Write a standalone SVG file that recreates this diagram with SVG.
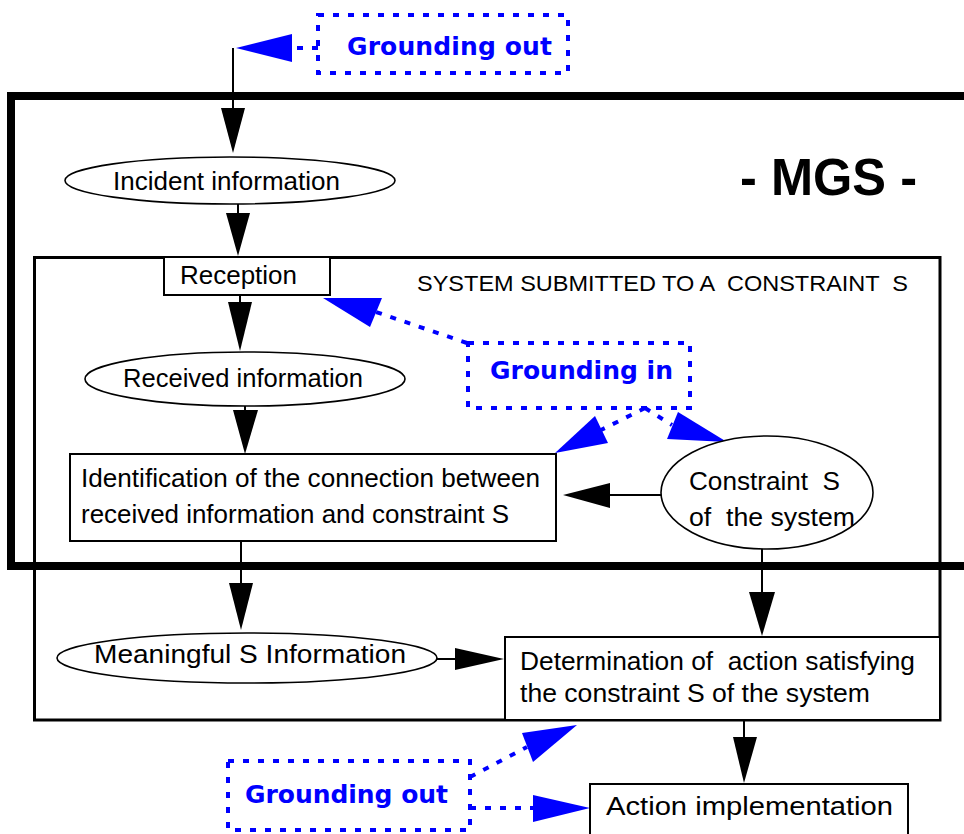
<svg xmlns="http://www.w3.org/2000/svg" width="964" height="834" viewBox="0 0 964 834">
<style>
.t{font-family:"Liberation Sans",Arial,sans-serif;font-size:26px;fill:#000;white-space:pre}
.g{font-family:"DejaVu Sans",Verdana,sans-serif;font-weight:bold;font-size:25px;fill:#0000ff}
.box{fill:#fff;stroke:#000;stroke-width:2}
.ell{fill:#fff;stroke:#000;stroke-width:1.6}
.dot{fill:none;stroke:#0000ff;stroke-width:4;stroke-dasharray:6 9}
.ln{fill:none;stroke:#000;stroke-width:2}
.ah{fill:#000}
.bh{fill:#0000ff}
</style>
<rect width="964" height="834" fill="#fff"/>
<g id="mgs-frame">
<rect x="11" y="96" width="975" height="470" fill="none" stroke="#000" stroke-width="8"/>
<text x="740" y="195" style="font-family:'Liberation Sans',Arial,sans-serif;font-weight:bold;font-size:51px;white-space:pre" textLength="177" lengthAdjust="spacingAndGlyphs">- MGS -</text>
</g>
<g id="system-frame">
<rect x="34.5" y="257.5" width="905.5" height="462.5" fill="none" stroke="#000" stroke-width="3"/>
<text class="t" x="417" y="291" style="font-size:22px" textLength="491" lengthAdjust="spacingAndGlyphs">SYSTEM SUBMITTED TO A  CONSTRAINT  S</text>
</g>
<g id="connectors">
<line class="ln" x1="233" y1="48" x2="233" y2="110"/>
<polygon class="ah" points="221,108 245,108 233,153"/>
<line class="ln" x1="238" y1="204" x2="238" y2="215"/>
<polygon class="ah" points="226,213 250,213 238,256"/>
<line class="ln" x1="240" y1="295" x2="240" y2="304"/>
<polygon class="ah" points="228,302 252,302 240,351"/>
<line class="ln" x1="245" y1="406" x2="245" y2="412"/>
<polygon class="ah" points="233,410 258,410 245,454"/>
<line class="ln" x1="661" y1="495" x2="608" y2="495"/>
<polygon class="ah" points="610,483 610,508 563,495"/>
<line class="ln" x1="241" y1="541" x2="241" y2="585"/>
<polygon class="ah" points="229,583 253,583 241,630"/>
<line class="ln" x1="436" y1="659" x2="457" y2="659"/>
<polygon class="ah" points="455,648 455,670 504,659"/>
<line class="ln" x1="762" y1="549" x2="762" y2="594"/>
<polygon class="ah" points="749,592 775,592 762,636"/>
<line class="ln" x1="744" y1="720" x2="744" y2="739"/>
<polygon class="ah" points="733,737 757,737 744,783"/>
<line class="dot" x1="318" y1="48" x2="292" y2="48"/>
<polygon class="bh" points="236,48 292,34 292,62"/>
<line class="dot" x1="467" y1="343" x2="376" y2="312"/>
<polygon class="bh" points="323,298 382,298 370,327"/>
<line class="dot" x1="645" y1="408" x2="601" y2="430"/>
<polygon class="bh" points="555,453 595,416 608,443"/>
<line class="dot" x1="645" y1="408" x2="672" y2="425"/>
<polygon class="bh" points="727,442 678,412 667,439"/>
<line class="dot" x1="470" y1="777" x2="527" y2="747"/>
<polygon class="bh" points="577,725 522,733 533,762"/>
<line class="dot" x1="470" y1="808" x2="533" y2="808"/>
<polygon class="bh" points="590,808 533,795 533,822"/>
</g>
<g id="grounding-out-top">
<rect class="dot" x="318" y="15" width="250" height="58"/>
<text class="g" x="347" y="55" textLength="205">Grounding out</text>
</g>
<g id="incident-information">
<ellipse class="ell" cx="230" cy="180.5" rx="165" ry="23.5"/>
<text class="t" x="113" y="190" textLength="227" lengthAdjust="spacingAndGlyphs">Incident information</text>
</g>
<g id="reception">
<rect class="box" x="164" y="257" width="166" height="38"/>
<text class="t" x="180" y="284" textLength="117" lengthAdjust="spacingAndGlyphs">Reception</text>
</g>
<g id="received-information">
<ellipse class="ell" cx="245" cy="379" rx="160" ry="27"/>
<text class="t" x="123" y="387" textLength="240" lengthAdjust="spacingAndGlyphs">Received information</text>
</g>
<g id="grounding-in">
<rect class="dot" x="468" y="343" width="222" height="65"/>
<text class="g" x="490" y="379" textLength="183">Grounding in</text>
</g>
<g id="identification">
<rect class="box" x="70" y="454" width="486" height="87"/>
<text class="t" x="81" y="487" textLength="459" lengthAdjust="spacingAndGlyphs">Identification of the connection between</text>
<text class="t" x="81" y="523" textLength="428" lengthAdjust="spacingAndGlyphs">received information and constraint S</text>
</g>
<g id="constraint-s">
<ellipse class="ell" cx="767" cy="492.5" rx="106" ry="56.5"/>
<text class="t" x="689" y="490" textLength="151" lengthAdjust="spacingAndGlyphs">Constraint  S</text>
<text class="t" x="689" y="526" textLength="166" lengthAdjust="spacingAndGlyphs">of  the system</text>
</g>
<g id="meaningful-information">
<ellipse class="ell" cx="247" cy="658" rx="190" ry="25"/>
<text class="t" x="94" y="663" textLength="312" lengthAdjust="spacingAndGlyphs">Meaningful S Information</text>
</g>
<g id="determination">
<rect class="box" x="505" y="637" width="435" height="83"/>
<text class="t" x="520" y="670" textLength="395" lengthAdjust="spacingAndGlyphs">Determination of  action satisfying</text>
<text class="t" x="520" y="702" textLength="350" lengthAdjust="spacingAndGlyphs">the constraint S of the system</text>
</g>
<g id="grounding-out-bottom">
<rect class="dot" x="228" y="761" width="242" height="69"/>
<text class="g" x="245" y="803" textLength="203">Grounding out</text>
</g>
<g id="action-implementation">
<rect class="box" x="590" y="784" width="318" height="60"/>
<text class="t" x="606" y="815" textLength="287" lengthAdjust="spacingAndGlyphs">Action implementation</text>
</g>
</svg>
